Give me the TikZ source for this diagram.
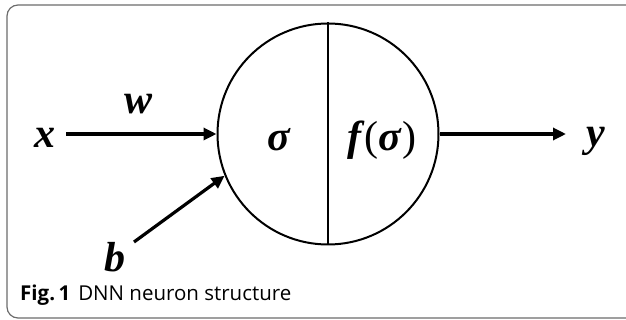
\documentclass[tikz,border=0pt]{standalone}
\usepackage{fontspec}
\setmainfont{Liberation Serif}
\newfontfamily\capfont{Open Sans}
\usetikzlibrary{arrows.meta}
\begin{document}
\begin{tikzpicture}[x=1pt,y=-1pt,
  mathlbl/.style={font=\fontsize{42}{46}\selectfont\bfseries\itshape, inner sep=0pt},
  arr/.style={line width=3.2pt,-{Triangle[length=13pt,width=12pt]}},
  every node/.style={inner sep=0pt}]
\useasboundingbox (0,0) rectangle (626,320);
\draw[gray!85!black, line width=1.2pt, rounded corners=11pt] (7,5) rectangle (640,318);
\node[circle, draw, line width=2pt, minimum size=221pt] (n) at (328,134) {};
\draw[line width=2pt] (n.north) -- (n.south);
\node[mathlbl] (sig) at (279,140) {σ};
\node[font=\fontsize{42}{46}\selectfont] (fs) at (382,140) {\textbf{\textit{f}}(\textbf{\textit{σ}})};
\node[mathlbl] (x) at (45,138) {x};
\node[mathlbl] (w) at (139,104) {w};
\node[mathlbl] (y) at (596,141) {y};
\node[mathlbl] (b) at (115,257) {b};
\coordinate (xs) at (66,134);
\coordinate (ys) at (566,134);
\coordinate (bs) at (134,242);
\draw[arr] (xs) -- (n.west);
\draw[arr] (n.east) -- (ys);
\draw[arr] (bs) -- (n.202);
\node[anchor=base west, font=\capfont\fontsize{20.5}{22}\selectfont] (cap) at (20,300) {\textbf{Fig.\,1}\hspace{8pt}DNN neuron structure};
\end{tikzpicture}
\end{document}
